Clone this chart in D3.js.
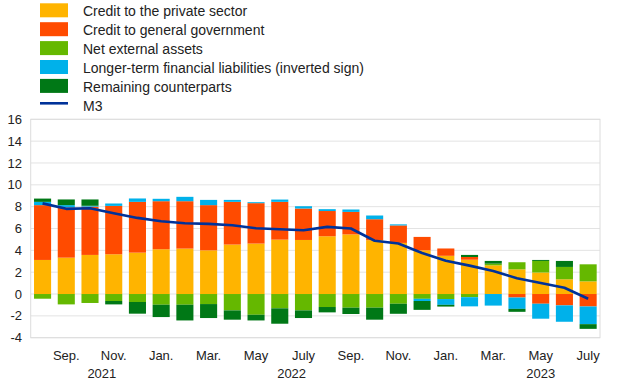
<!DOCTYPE html>
<html><head><meta charset="utf-8">
<script src="https://cdn.jsdelivr.net/npm/d3@7"></script>
<style>body{margin:0;background:#fff;font-family:"Liberation Sans",Arial,sans-serif}</style>
</head><body><svg id="c" width="620" height="387"></svg>
<script>
const months = ["2021-08","2021-09","2021-10","2021-11","2021-12","2022-01","2022-02","2022-03","2022-04","2022-05","2022-06","2022-07","2022-08","2022-09","2022-10","2022-11","2022-12","2023-01","2023-02","2023-03","2023-04","2023-05","2023-06","2023-07"];
const privateSector = [3.12,3.33,3.58,3.64,3.79,4.1,4.16,4.0,4.53,4.62,4.98,4.95,5.29,5.46,4.93,4.68,4.0,3.5,3.14,2.63,2.26,1.97,1.35,1.16];
const government = [5.02,4.6,4.42,4.43,4.65,4.4,4.34,4.14,3.91,3.7,3.46,2.88,2.31,2.06,1.92,1.6,1.23,0.67,0.25,0,-0.32,-0.89,-1.04,-1.14];
const netExternal = [-0.43,-0.95,-0.82,-0.64,-0.73,-0.98,-0.98,-0.92,-1.5,-1.9,-1.31,-1.5,-1.19,-1.25,-1.25,-0.89,-0.44,-0.46,-0.29,0.15,0.65,1.06,1.13,1.56];
const longTermLiab = [0.3,0.21,0.08,0.22,0.31,0.22,0.4,0.48,0.18,0.09,0.21,0.21,0.17,0.22,0.34,0.1,-0.2,-0.53,-0.84,-1.06,-1.04,-1.37,-1.5,-1.62];
const remaining = [0.3,0.52,0.58,-0.31,-1.07,-1.13,-1.44,-1.28,-0.85,-0.52,-1.41,-0.7,-0.49,-0.58,-1.1,-0.92,-0.81,-0.16,0.19,0.25,-0.27,0.09,0.55,-0.43];
const m3 = [8.3,7.8,7.85,7.4,6.97,6.67,6.48,6.42,6.3,6.02,5.93,5.84,6.15,6.0,4.88,4.62,3.76,3.05,2.6,2.1,1.45,1.0,0.57,-0.43];
const seriesNames = ["Credit to the private sector","Credit to general government","Net external assets","Longer-term financial liabilities (inverted sign)","Remaining counterparts"];
const colors = ["#FFB400","#FF4B00","#65B800","#00B1EA","#007816"];
const m3Name = "M3";
const yTicks = [-4,-2,0,2,4,6,8,10,12,14,16];
const monthLabels = {"2021-09":"Sep.","2021-11":"Nov.","2022-01":"Jan.","2022-03":"Mar.","2022-05":"May","2022-07":"July","2022-09":"Sep.","2022-11":"Nov.","2023-01":"Jan.","2023-03":"Mar.","2023-05":"May","2023-07":"July"};
const yearLabels = [{year:"2021",a:"2021-10",b:"2021-11"},{year:"2022",a:"2022-06",b:"2022-07"},{year:"2023",a:"2023-05",b:"2023-05"}];

const svg = d3.select("#c");
const L = 30.7, R = 600, T = 119.3, B = 337.7;
const x = d3.scaleBand().domain(months).range([L,R]).paddingInner(0.28).paddingOuter(0.14);
const y = d3.scaleLinear().domain([-4,16]).range([B,T]);

// grid
svg.append("g").selectAll("line").data(yTicks).join("line")
  .attr("x1",L).attr("x2",R).attr("y1",d=>y(d)).attr("y2",d=>y(d))
  .attr("stroke","#e3e3e3").attr("stroke-width",1);
svg.append("rect").attr("x",L).attr("y",T).attr("width",R-L).attr("height",B-T)
  .attr("fill","none").attr("stroke","#dcdcdc").attr("stroke-width",1);

// y labels
svg.append("g").selectAll("text").data(yTicks).join("text")
  .attr("x",22).attr("y",d=>y(d)).attr("dy","0.35em").attr("text-anchor","end")
  .attr("font-size",13).attr("fill","#222").text(d=>d);

// stack
const keys = [0,1,2,3,4];
const arrs = [privateSector,government,netExternal,longTermLiab,remaining];
const table = months.map((m,i)=>{const o={m}; keys.forEach(k=>o[k]=arrs[k][i]); return o;});
const stack = d3.stack().keys(keys).offset(d3.stackOffsetDiverging)(table);
svg.append("g").selectAll("g").data(stack).join("g").attr("fill",d=>colors[d.key])
  .selectAll("rect").data(d=>d).join("rect")
  .attr("x",d=>x(d.data.m)).attr("width",x.bandwidth())
  .attr("y",d=>y(Math.max(d[0],d[1]))).attr("height",d=>Math.abs(y(d[0])-y(d[1])));

// M3 line
const line = d3.line().x((d,i)=>x(months[i])+x.bandwidth()/2).y(d=>y(d));
svg.append("path").datum(m3).attr("d",line).attr("fill","none")
  .attr("stroke","#003299").attr("stroke-width",2.6).attr("stroke-linejoin","round");

// x labels
svg.append("g").selectAll("text").data(months.filter(m=>monthLabels[m])).join("text")
  .attr("x",m=>x(m)+x.bandwidth()/2).attr("y",360).attr("text-anchor","middle")
  .attr("font-size",13).attr("fill","#222").text(m=>monthLabels[m]);
svg.append("g").selectAll("text").data(yearLabels).join("text")
  .attr("x",d=>(x(d.a)+x(d.b))/2+x.bandwidth()/2).attr("y",378).attr("text-anchor","middle")
  .attr("font-size",13).attr("fill","#222").text(d=>d.year);

// legend
const lg = svg.append("g");
seriesNames.forEach((n,i)=>{
  const cy = 10.3 + i*18.9;
  lg.append("rect").attr("x",40).attr("y",cy-7).attr("width",28).attr("height",14).attr("fill",colors[i]);
  lg.append("text").attr("x",83).attr("y",cy+1).attr("dy","0.35em").attr("font-size",14).attr("fill","#222").text(n);
});
const cyM = 10.3 + 5*18.9;
lg.append("line").attr("x1",40).attr("x2",68).attr("y1",cyM-1.5).attr("y2",cyM-1.5).attr("stroke","#003299").attr("stroke-width",2.6);
lg.append("text").attr("x",83).attr("y",cyM+1).attr("dy","0.35em").attr("font-size",14).attr("fill","#222").text(m3Name);
</script></body></html>
